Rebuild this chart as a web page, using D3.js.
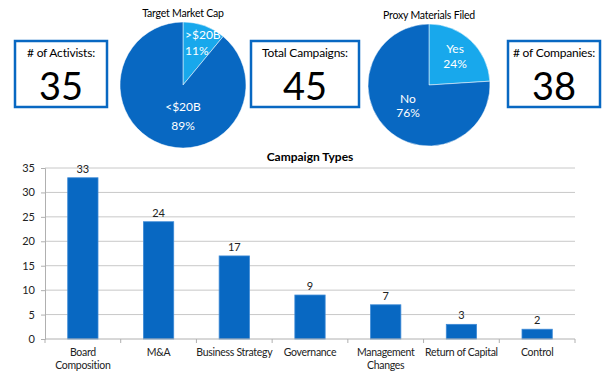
<!DOCTYPE html>
<html lang="en">
<head>
<meta charset="utf-8">
<title>Activism Dashboard</title>
<script src="https://cdn.jsdelivr.net/npm/d3@7"></script>
<style>
  body { margin: 0; background: #fff; }
  text { font-family: Lato, "Open Sans", sans-serif; }
</style>
</head>
<body>
<div id="chart"></div>
<script>
// data
var categories = ["Board Composition", "M&A", "Business Strategy", "Governance", "Management Changes", "Return of Capital", "Control"];
var catLines = [["Board", "Composition"], ["M&A"], ["Business Strategy"], ["Governance"], ["Management", "Changes"], ["Return of Capital"], ["Control"]];
var campaignCounts = [33, 24, 17, 9, 7, 3, 2];
var yTicks = [0, 5, 10, 15, 20, 25, 30, 35];

var capLabels = [">$20B", "<$20B"];
var capShares = [11, 89];
var proxyLabels = ["Yes", "No"];
var proxyShares = [24, 76];

var statLabels = ["# of Activists:", "Total Campaigns:", "# of Companies:"];
var statValues = [35, 45, 38];

var dark = "#0868c2", light = "#18a8ec";

var svg = d3.select("#chart").append("svg")
  .attr("width", 616)
  .attr("height", 373);

// stat boxes
var boxes = [{x: 15, w: 92}, {x: 251, w: 108}, {x: 508, w: 92}];
boxes.forEach(function(b, i) {
  var g = svg.append("g").attr("transform", "translate(" + b.x + ",41)");
  g.append("rect")
    .attr("width", b.w).attr("height", 66)
    .attr("fill", "#fff")
    .attr("stroke", dark).attr("stroke-width", 2.5);
  g.append("text")
    .attr("x", b.w / 2).attr("y", 16)
    .attr("text-anchor", "middle")
    .attr("font-size", "12px")
    .attr("letter-spacing", "-0.2px")
    .text(statLabels[i]);
  g.append("text")
    .attr("x", b.w / 2).attr("y", 59)
    .attr("text-anchor", "middle")
    .attr("font-size", "38px")
    .text(statValues[i]);
});

// pies
function drawPie(cx, cy, r, title, labels, shares, labelPos) {
  var g = svg.append("g").attr("transform", "translate(" + cx + "," + cy + ")");
  var pie = d3.pie().sort(null)(shares);
  var arc = d3.arc().innerRadius(0).outerRadius(r);
  g.selectAll("path").data(pie).enter().append("path")
    .attr("d", arc)
    .attr("fill", function(d, i) { return i == 0 ? light : dark; })
    .attr("stroke", "#fff").attr("stroke-width", 0.5);
  g.append("text")
    .attr("x", 0).attr("y", -r - 5)
    .attr("text-anchor", "middle")
    .attr("font-size", "10.5px")
    .attr("letter-spacing", "-0.2px")
    .text(title);
  pie.forEach(function(d, i) {
    var p = labelPos[i];
    var t = g.append("text")
      .attr("text-anchor", p[2])
      .attr("font-size", "12px")
      .attr("fill", "#fff");
    t.append("tspan").attr("x", p[0]).attr("y", p[1]).text(labels[i]);
    t.append("tspan").attr("x", p[0]).attr("y", p[1] + p[3]).text(shares[i] + "%");
  });
}
drawPie(183, 85, 63, "Target Market Cap", capLabels, capShares, [[2, -46, "start", 16], [0, 26, "middle", 19]]);
drawPie(429, 85, 61, "Proxy Materials Filed", proxyLabels, proxyShares, [[26, -32, "middle", 15], [-21, 18, "middle", 14]]);

// bar chart
var m = {left: 45, right: 575, top: 168, bottom: 339};

var x = d3.scaleBand().domain(categories).range([m.left, m.right]).paddingInner(0.6).paddingOuter(0.3);
var xOuter = d3.scaleBand().domain(categories).range([m.left, m.right]);
var y = d3.scaleLinear().domain([0, 35]).range([m.bottom, m.top]);

svg.append("text")
  .attr("x", 310).attr("y", 161)
  .attr("text-anchor", "middle")
  .attr("font-size", "12px").attr("font-weight", "bold")
  .text("Campaign Types");

// gridlines
svg.append("g").selectAll("line").data(yTicks.slice(1)).enter().append("line")
  .attr("x1", m.left).attr("x2", m.right)
  .attr("y1", function(d) { return y(d); }).attr("y2", function(d) { return y(d); })
  .attr("stroke", "#c8c8c8").attr("stroke-width", 1);

var yAxis = svg.append("g")
  .attr("transform", "translate(" + m.left + ",0)")
  .call(d3.axisLeft(y).tickValues(yTicks).tickSize(4).tickPadding(6));
yAxis.select(".domain").attr("stroke", "#b0b0b0");
yAxis.selectAll(".tick line").attr("stroke", "#b0b0b0");
yAxis.selectAll("text").attr("font-size", "11px").attr("font-family", "Lato, sans-serif").attr("fill", "#222");

// bars
svg.append("g").selectAll("rect").data(campaignCounts).enter().append("rect")
  .attr("x", function(d, i) { return x(categories[i]); })
  .attr("y", function(d) { return y(d); })
  .attr("width", x.bandwidth())
  .attr("height", function(d) { return y(0) - y(d); })
  .attr("fill", dark)
  .attr("stroke", "#3d8ad6").attr("stroke-width", 0.8);

svg.append("g").selectAll("text").data(campaignCounts).enter().append("text")
  .attr("x", function(d, i) { return x(categories[i]) + x.bandwidth() / 2; })
  .attr("y", function(d) { return y(d) - 5; })
  .attr("text-anchor", "middle")
  .attr("font-size", "11px")
  .attr("fill", "#222")
  .text(function(d) { return d; });

// x axis
var xAxis = svg.append("g")
  .attr("transform", "translate(0," + m.bottom + ")");
xAxis.append("line")
  .attr("x1", m.left).attr("x2", m.right)
  .attr("stroke", "#b0b0b0");
xAxis.selectAll(".tk").data(d3.range(categories.length + 1)).enter().append("line")
  .attr("x1", function(i) { return m.left + i * xOuter.step(); })
  .attr("x2", function(i) { return m.left + i * xOuter.step(); })
  .attr("y1", 0).attr("y2", 4)
  .attr("stroke", "#b0b0b0");
catLines.forEach(function(lines, i) {
  var t = xAxis.append("text")
    .attr("text-anchor", "middle")
    .attr("font-size", "10.5px")
    .attr("letter-spacing", "-0.3px")
    .attr("fill", "#222");
  lines.forEach(function(l, j) {
    t.append("tspan")
      .attr("x", xOuter(categories[i]) + xOuter.bandwidth() / 2)
      .attr("y", 17 + j * 13)
      .text(l);
  });
});
</script>
</body>
</html>
